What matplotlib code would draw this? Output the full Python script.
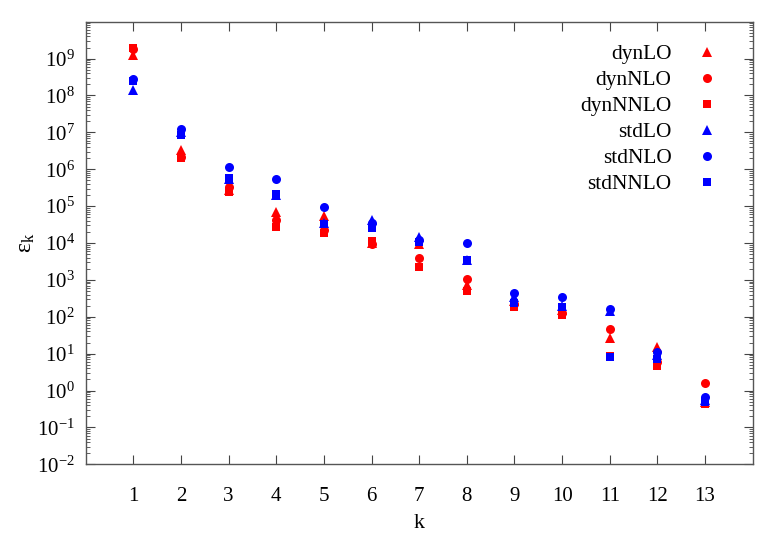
import math
import matplotlib
matplotlib.use("Agg")
import matplotlib.pyplot as plt
from matplotlib.ticker import FixedLocator, FuncFormatter, LogLocator, NullFormatter

plt.rcParams['font.family'] = ['Liberation Serif', 'DejaVu Serif']
plt.rcParams['mathtext.fontset'] = 'custom'
plt.rcParams['mathtext.rm'] = 'Liberation Serif'
plt.rcParams['mathtext.it'] = 'Liberation Serif:italic'

k = [1, 2, 3, 4, 5, 6, 7, 8, 9, 10, 11, 12, 13]
dynLO   = [1.25e9, 3.3e6, 2.8e5, 7.0e4, 5.4e4, 1.0e4, 9.3e3, 7.2e2, 2.6e2, 1.5e2, 27, 15, 0.5]
dynNLO  = [1.8e9, 2.2e6, 3.3e5, 4.2e4, 2.2e4, 9.2e3, 3.9e3, 1.09e3, 2.2e2, 1.3e2, 48, 6, 1.6]
dynNNLO = [2.0e9, 2.0e6, 2.4e5, 2.7e4, 1.9e4, 1.14e4, 2.2e3, 5.0e2, 1.9e2, 1.1e2, 8.5, 4.6, 0.44]
stdLO   = [1.4e8, 1.0e7, 5.5e5, 2.0e5, 3.5e4, 4.3e4, 1.47e4, 3.5e3, 3.5e2, 2.0e2, 1.4e2, 9, 0.55]
stdNLO  = [2.8e8, 1.2e7, 1.16e6, 5.5e5, 9.5e4, 3.5e4, 1.2e4, 1.03e4, 4.3e2, 3.4e2, 1.67e2, 11, 0.67]
stdNNLO = [2.5e8, 8.4e6, 5.8e5, 2.07e5, 3.2e4, 2.5e4, 1.07e4, 3.56e3, 2.3e2, 1.85e2, 8.1, 7.3, 0.49]

series = [
    ("dynLO", dynLO, "#ff0000", "^", 7.5),
    ("dynNLO", dynNLO, "#ff0000", "o", 6.5),
    ("dynNNLO", dynNNLO, "#ff0000", "s", 6.3),
    ("stdLO", stdLO, "#0000ff", "^", 7.5),
    ("stdNLO", stdNLO, "#0000ff", "o", 6.5),
    ("stdNNLO", stdNNLO, "#0000ff", "s", 6.3),
]

fig = plt.figure(figsize=(7.81, 5.46), dpi=100)
ax = fig.add_axes([0.1097, 0.1496, 0.854, 0.8106])

for name, vals, col, mk, ms in series:
    ax.plot(k, vals, linestyle='none', marker=mk, markersize=ms,
            color=col, markeredgewidth=0, label=name)

ax.set_yscale('log')
ax.set_xlim(0, 14)
ax.set_ylim(1e-2, 1e10)

ax.xaxis.set_major_locator(FixedLocator(k))
ax.set_xticklabels([str(v) for v in k])
ax.yaxis.set_major_locator(FixedLocator([10.0**e for e in range(-2, 10)]))
ax.yaxis.set_major_formatter(FuncFormatter(lambda v, p: r'$\mathrm{10^{%d}}$' % round(math.log10(v))))
ax.yaxis.set_minor_locator(LogLocator(base=10, subs=range(2, 10), numticks=50))
ax.yaxis.set_minor_formatter(NullFormatter())

ax.tick_params(axis='both', which='major', direction='in', length=6.5, width=0.8,
               top=True, right=True, labelsize=15, colors='#444444', labelcolor='black')
ax.tick_params(axis='x', which='major', pad=16)
ax.tick_params(axis='y', which='major', pad=8)
ax.tick_params(axis='y', which='minor', direction='in', length=3, width=0.6,
               right=True, colors='#444444')
ax.tick_params(axis='x', which='minor', bottom=False, top=False)
for s in ax.spines.values():
    s.set_color('#555555')
    s.set_linewidth(1.0)

ax.set_xlabel('k', fontsize=16, labelpad=6)
ax.set_ylabel(r'ε$_\mathrm{k}$', fontsize=17, labelpad=0)

ax.legend(loc='upper right', bbox_to_anchor=(0.964, 0.949), frameon=False,
          markerfirst=False, numpoints=1, fontsize=15.4, handlelength=2.0,
          handletextpad=0.67, labelspacing=0.28, borderpad=0, borderaxespad=0)

fig.savefig('out.png', dpi=100)
